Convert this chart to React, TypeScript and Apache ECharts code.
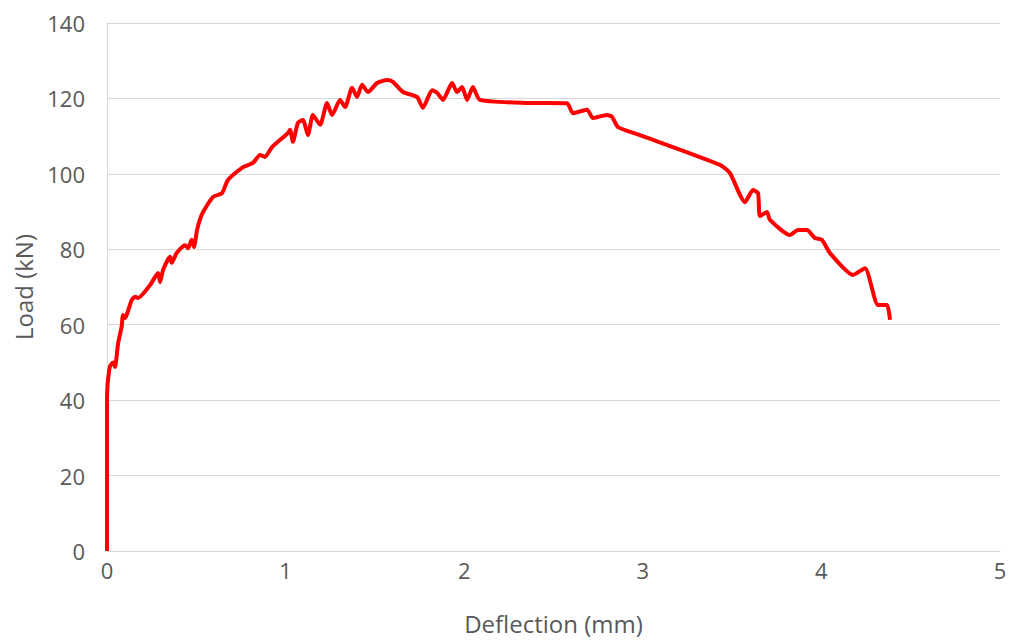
import React, { useEffect, useRef } from "react";
import * as echarts from "echarts";

// Load–deflection test record
const deflection: number[] = [
  0, 0, 0.003, 0.011, 0.017, 0.034, 0.045, 0.062, 0.082, 0.09, 0.101, 0.138, 0.157, 0.174,
  0.241, 0.286, 0.297, 0.314, 0.353, 0.362, 0.39, 0.437, 0.454, 0.474, 0.487, 0.504, 0.521,
  0.538, 0.594, 0.644, 0.677, 0.756, 0.817, 0.857, 0.885, 0.924, 1.013, 1.025, 1.041, 1.069,
  1.097, 1.125, 1.153, 1.193, 1.232, 1.26, 1.305, 1.333, 1.372, 1.4, 1.428, 1.461, 1.512,
  1.568, 1.601, 1.657, 1.736, 1.769, 1.82, 1.848, 1.881, 1.932, 1.96, 1.988, 2.016, 2.049,
  2.088, 2.368, 2.576, 2.609, 2.688, 2.721, 2.8, 2.828, 2.861, 2.984, 3.432, 3.488, 3.572,
  3.617, 3.645, 3.656, 3.695, 3.712, 3.824, 3.869, 3.919, 3.964, 4.003, 4.048, 4.177, 4.244,
  4.317, 4.367, 4.384,
];
const load: number[] = [
  0, 40, 44, 47.5, 49, 50, 48.8, 55, 59.5, 62.6, 61.8, 66.5, 67.4, 67.1,
  70.5, 73.7, 71.3, 74.5, 78, 76.4, 79, 81.1, 80.3, 82.5, 80.6, 85.1, 88,
  89.9, 93.9, 94.9, 98.4, 101.6, 102.9, 105, 104.5, 107.1, 110.8, 111.7, 108.5, 113.5,
  114.3, 110.3, 115.6, 113, 118.8, 115.6, 119.6, 117.7, 122.8, 120.4, 123.6, 121.7, 124.1,
  124.9, 124.4, 121.7, 120.4, 117.5, 122.2, 121.5, 119.6, 124.1, 121.7, 123, 119.6, 123,
  119.6, 118.8, 118.7, 116.1, 117, 114.8, 115.6, 115.1, 112.4, 110.3, 102.4, 100.2, 92.5,
  95.7, 94.9, 88.8, 89.9, 87.8, 83.8, 85.1, 85.1, 83, 82.5, 79, 73.2, 75,
  65.2, 65.2, 61.3,
];

const xTicks = { min: 0, max: 5, interval: 1 };
const yTicks = { min: 0, max: 140, interval: 20 };

const FONT = "'Open Sans', 'Noto Sans', sans-serif";
const TEXT_GREY = "#595959";

export default function App() {
  const ref = useRef<HTMLDivElement>(null);

  useEffect(() => {
    if (!ref.current) return;
    const chart = echarts.init(ref.current, undefined, { renderer: "svg" });
    const points = deflection.map((d, i) => [d, load[i]]);
    chart.setOption({
      animation: false,
      backgroundColor: "#ffffff",
      grid: { left: 107, right: 10, top: 23, bottom: 90 },
      xAxis: {
        type: "value",
        ...xTicks,
        name: "Deflection (mm)",
        nameLocation: "middle",
        nameGap: 60,
        nameTextStyle: { fontFamily: FONT, fontSize: 24, color: TEXT_GREY },
        axisLine: { show: true, lineStyle: { color: "#d9d9d9", width: 1 } },
        axisTick: { show: false },
        splitLine: { show: false },
        axisLabel: { fontFamily: FONT, fontSize: 22, color: TEXT_GREY, margin: 8 },
      },
      yAxis: {
        type: "value",
        ...yTicks,
        name: "Load (kN)",
        nameLocation: "middle",
        nameGap: 72,
        nameTextStyle: { fontFamily: FONT, fontSize: 24, color: TEXT_GREY },
        axisLine: { show: true, lineStyle: { color: "#d9d9d9", width: 1 } },
        axisTick: { show: false },
        splitLine: { show: true, lineStyle: { color: "#d9d9d9", width: 1 } },
        axisLabel: { fontFamily: FONT, fontSize: 22, color: TEXT_GREY, margin: 22 },
      },
      series: [
        {
          type: "line",
          data: points,
          showSymbol: false,
          smooth: 0.2,
          lineStyle: { color: "#ff0000", width: 4 },
          itemStyle: { color: "#ff0000" },
        },
      ],
    });
    return () => chart.dispose();
  }, []);

  return (
    <div
      ref={ref}
      style={{ position: "fixed", left: 0, top: 0, width: 1010, height: 641 }}
    />
  );
}
